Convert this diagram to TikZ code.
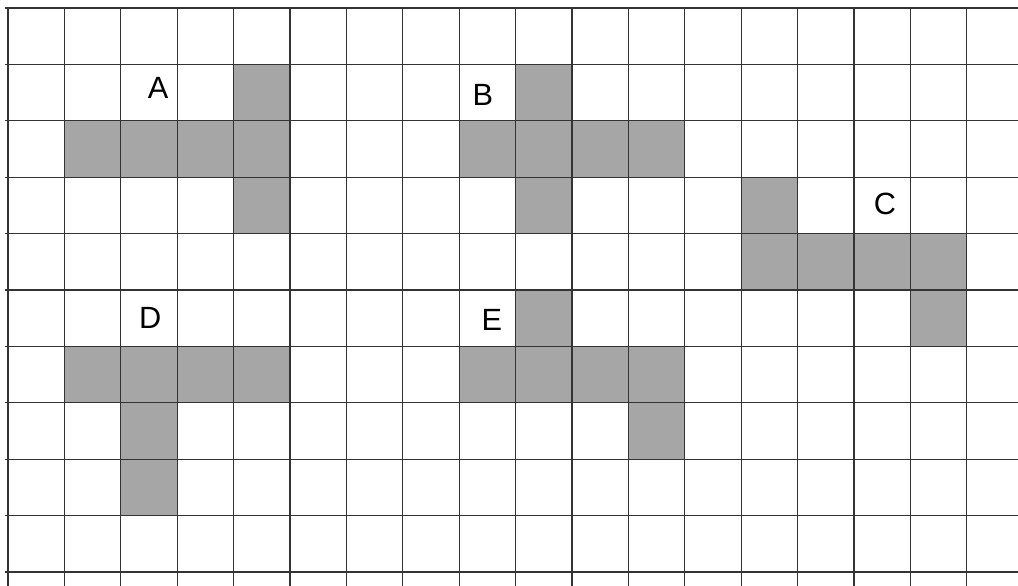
\documentclass[tikz,border=0pt]{standalone}
\usepackage{fontspec}
\setmainfont{Liberation Sans}

\begin{document}
\begin{tikzpicture}[
    x=1cm, y=-1cm,
    font=\fontsize{15.5}{18}\selectfont,
    cell/.style={
        fill=black!35
    },
    gridline/.style={
        draw=black!80,
        line width=0.6pt
    },
    letter/.style={
        inner sep=0pt
    }
]

% Page frame
\useasboundingbox (-0.142,-0.142) rectangle (17.908,10.248);

% Shaded cells A, B, C, D, E
\foreach \c/\r in {4/1,1/2,2/2,3/2,4/2,4/3}
    \fill[cell] (\c,\r) rectangle ++(1,1);
\foreach \c/\r in {9/1,8/2,9/2,10/2,11/2,9/3}
    \fill[cell] (\c,\r) rectangle ++(1,1);
\foreach \c/\r in {13/3,13/4,14/4,15/4,16/4,16/5}
    \fill[cell] (\c,\r) rectangle ++(1,1);
\foreach \c/\r in {1/6,2/6,3/6,4/6,2/7,2/8}
    \fill[cell] (\c,\r) rectangle ++(1,1);
\foreach \c/\r in {9/5,8/6,9/6,10/6,11/6,11/7}
    \fill[cell] (\c,\r) rectangle ++(1,1);

% Grid lines
\foreach \i in {0,...,17}
    \draw[gridline] (\i,0) -- (\i,10.3);
\foreach \j in {0,...,10}
    \draw[gridline] (-0.05,\j) -- (17.95,\j);

% Shape names
\node[letter] (nameA) at (2.66,1.42) {A};
\node[letter] (nameB) at (8.42,1.54) {B};
\node[letter] (nameC) at (15.55,3.48) {C};
\node[letter] (nameD) at (2.52,5.50) {D};
\node[letter] (nameE) at (8.58,5.53) {E};

\end{tikzpicture}
\end{document}
